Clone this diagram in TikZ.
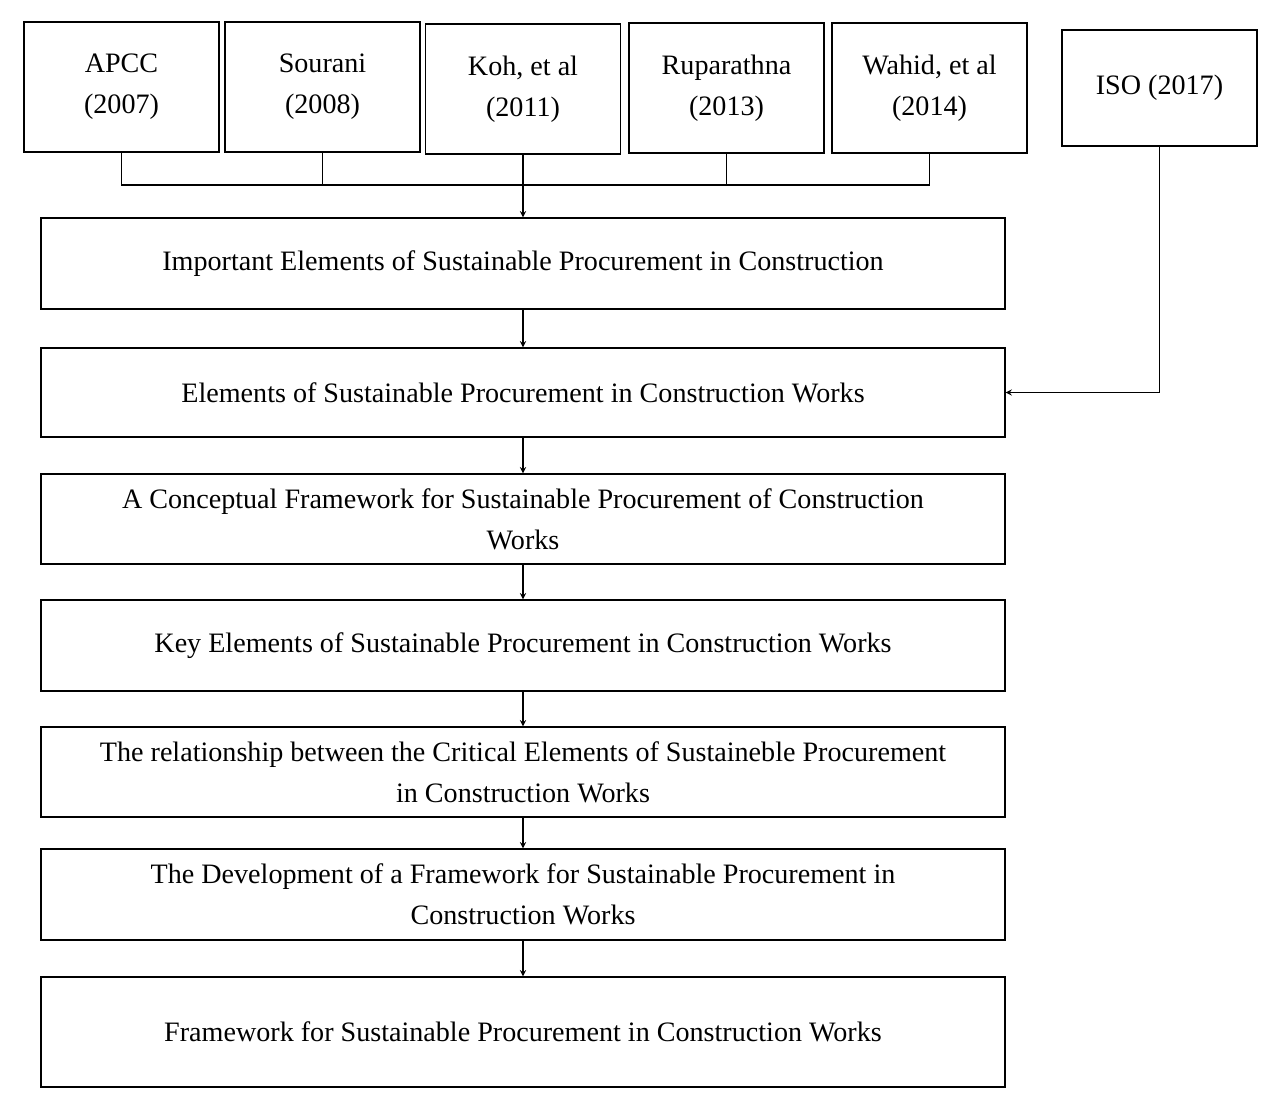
\documentclass[tikz,border=0pt]{standalone}
\usepackage{fontspec}
\setmainfont{Liberation Serif}
\usetikzlibrary{positioning}
\begin{document}
\begin{tikzpicture}[x=0.02cm, y=-0.02cm, >=stealth,
	src/.style={draw, thick, minimum width=3.9cm, minimum height=2.6cm, align=center, inner sep=2pt, font=\fontsize{16}{23.5}\selectfont},
	stage/.style={draw, thick, minimum width=19.28cm, align=center, inner sep=2pt, font=\fontsize{16}{23.5}\selectfont},
	link/.style={semithick}]
	\useasboundingbox (0,0) rectangle (1273,1093);
	% sources
	\node[src] (apcc) at (121.5,87) {APCC\\(2007)};
	\node[src] (sour) at (322.5,87) {Sourani\\(2008)};
	\node[src] (koh) at (523,89) {Koh, et al\\(2011)};
	\node[src] (rupa) at (726.5,88) {Ruparathna\\(2013)};
	\node[src] (wahi) at (929.5,88) {Wahid, et al\\(2014)};
	\node[src, minimum height=2.32cm] (iso) at (1159.5,88) {ISO (2017)};
	% stages
	\node[stage, minimum height=1.82cm] (s1) at (523,263.5) {Important Elements of Sustainable Procurement in Construction};
	\node[stage, minimum height=1.78cm] (s2) at (523,392.5) {Elements of Sustainable Procurement in Construction Works};
	\node[stage, minimum height=1.8cm] (s3) at (523,519) {A Conceptual Framework for Sustainable Procurement of Construction\\Works};
	\node[stage, minimum height=1.82cm] (s4) at (523,645.5) {Key Elements of Sustainable Procurement in Construction Works};
	\node[stage, minimum height=1.8cm] (s5) at (523,772) {The relationship between the Critical Elements of Sustaineble Procurement\\in Construction Works};
	\node[stage, minimum height=1.82cm] (s6) at (523,894.5) {The Development of a Framework for Sustainable Procurement in\\Construction Works};
	\node[stage, minimum height=2.2cm] (s7) at (523,1032) {Framework for Sustainable Procurement in Construction Works};
	% bus
	\coordinate (bl) at (121.5,185);
	\coordinate (br) at (929.5,185);
	\draw[link] (apcc.south) -- (bl) -- (br) -- (wahi.south);
	\draw[link] (sour.south) -- (sour.south |- bl);
	\draw[link] (rupa.south) -- (rupa.south |- bl);
	\draw[link, ->] (koh.south) -- (s1.north);
	% chain
	\foreach \a/\b in {s1/s2, s2/s3, s3/s4, s4/s5, s5/s6, s6/s7}
		\draw[link, ->] (\a.south) -- (\b.north);
	\draw[link, ->] (iso.south) |- (s2.east);
\end{tikzpicture}
\end{document}
